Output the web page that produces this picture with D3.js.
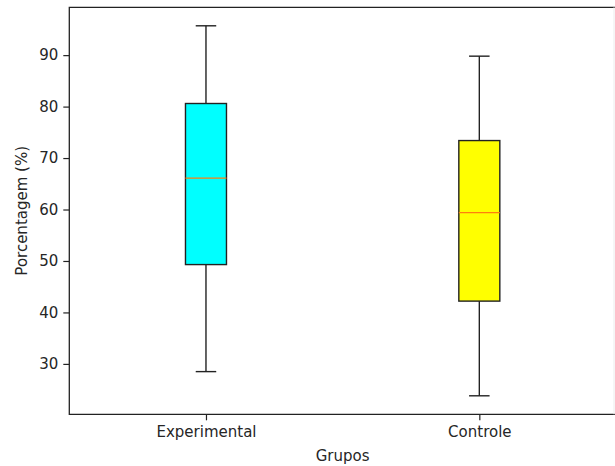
<!DOCTYPE html>
<html>
<head>
<meta charset="utf-8">
<script src="https://cdn.jsdelivr.net/npm/d3@7"></script>
<style>
  body { margin: 0; background: #fff; }
  svg { display: block; font-family: "DejaVu Sans", sans-serif; }
</style>
</head>
<body>
<script>
var categories = ['Experimental', 'Controle'];
var whiskerLow = [28.5, 23.8];
var q1 = [49.3, 42.2];
var median = [66.1, 59.4];
var q3 = [80.6, 73.4];
var whiskerHigh = [95.7, 89.8];
var boxColors = ['#00ffff', '#ffff00'];
var yTicks = [30, 40, 50, 60, 70, 80, 90];

var settings = {
  width: 615,
  height: 466,
  left: 69.3,
  right: 616,
  top: 7.3,
  bottom: 414.3
};

var lineColor = '#222';

var svg = d3.select('body').append('svg')
  .attr('width', settings.width)
  .attr('height', settings.height);

// matplotlib style 5% margin on the data range
var lo = d3.min(whiskerLow), hi = d3.max(whiskerHigh);
var pad = (hi - lo) * 0.05;

var x = d3.scaleLinear()
  .domain([0.5, categories.length + 0.5])
  .range([settings.left, settings.right]);

var y = d3.scaleLinear()
  .domain([lo - pad, hi + pad])
  .range([settings.bottom, settings.top]);

var boxW = 0.15;
var capW = boxW / 2;

var data = categories.map(function(c, i){
  return {
    name: c,
    pos: i + 1,
    low: whiskerLow[i],
    q1: q1[i],
    med: median[i],
    q3: q3[i],
    high: whiskerHigh[i],
    color: boxColors[i]
  };
});

var groups = svg.selectAll('g.box').data(data)
  .enter().append('g')
    .attr('class', 'box');

// whiskers
groups.append('line')
  .attr('x1', function(d){return x(d.pos);})
  .attr('x2', function(d){return x(d.pos);})
  .attr('y1', function(d){return y(d.low);})
  .attr('y2', function(d){return y(d.q1);})
  .style('stroke', lineColor).style('stroke-width', 1.4);
groups.append('line')
  .attr('x1', function(d){return x(d.pos);})
  .attr('x2', function(d){return x(d.pos);})
  .attr('y1', function(d){return y(d.q3);})
  .attr('y2', function(d){return y(d.high);})
  .style('stroke', lineColor).style('stroke-width', 1.4);

// caps
groups.append('line')
  .attr('x1', function(d){return x(d.pos - capW/2);})
  .attr('x2', function(d){return x(d.pos + capW/2);})
  .attr('y1', function(d){return y(d.low);})
  .attr('y2', function(d){return y(d.low);})
  .style('stroke', lineColor).style('stroke-width', 1.4);
groups.append('line')
  .attr('x1', function(d){return x(d.pos - capW/2);})
  .attr('x2', function(d){return x(d.pos + capW/2);})
  .attr('y1', function(d){return y(d.high);})
  .attr('y2', function(d){return y(d.high);})
  .style('stroke', lineColor).style('stroke-width', 1.4);

// boxes
groups.append('rect')
  .attr('x', function(d){return x(d.pos - boxW/2);})
  .attr('y', function(d){return y(d.q3);})
  .attr('width', function(d){return x(d.pos + boxW/2) - x(d.pos - boxW/2);})
  .attr('height', function(d){return y(d.q1) - y(d.q3);})
  .style('fill', function(d){return d.color;})
  .style('stroke', lineColor)
  .style('stroke-width', 1.4);

// medians
groups.append('line')
  .attr('x1', function(d){return x(d.pos - boxW/2);})
  .attr('x2', function(d){return x(d.pos + boxW/2);})
  .attr('y1', function(d){return y(d.med);})
  .attr('y2', function(d){return y(d.med);})
  .style('stroke', '#ff7f0e').style('stroke-width', 1.3);

// axes
var yAxis = svg.append('g')
  .attr('transform', 'translate(' + settings.left + ',0)')
  .call(d3.axisLeft(y).tickValues(yTicks).tickSize(6).tickPadding(5).tickFormat(d3.format('d')));

var xAxis = svg.append('g')
  .attr('transform', 'translate(0,' + settings.bottom + ')')
  .call(d3.axisBottom(x).tickValues(data.map(function(d){return d.pos;}))
    .tickSize(6).tickPadding(6)
    .tickFormat(function(d){return categories[d - 1];}));

[yAxis, xAxis].forEach(function(a){
  a.select('.domain').remove();
  a.selectAll('.tick line').style('stroke', lineColor).style('stroke-width', 1.2);
  a.selectAll('.tick text')
    .style('font-family', '"DejaVu Sans", sans-serif')
    .style('font-size', '15px')
    .style('fill', '#262626');
});

// frame: right spine is cut off at the image edge, only a faint trace shows
var fx = settings.left, fy = settings.top, fb = settings.bottom;
svg.append('path')
  .attr('d', 'M' + (settings.right - 1) + ',' + fy + 'H' + fx + 'V' + fb + 'H' + (settings.right - 1))
  .style('fill', 'none')
  .style('stroke', lineColor)
  .style('stroke-width', 1.3);
svg.append('line')
  .attr('x1', 614).attr('x2', 614)
  .attr('y1', fy).attr('y2', fb)
  .style('stroke', '#ececec')
  .style('stroke-width', 1);

// axis titles
svg.append('text')
  .attr('x', (settings.left + settings.right) / 2)
  .attr('y', 461)
  .attr('text-anchor', 'middle')
  .style('font-size', '15px')
  .style('fill', '#262626')
  .text('Grupos');

svg.append('text')
  .attr('transform', 'translate(27,' + (settings.top + settings.bottom) / 2 + ') rotate(-90)')
  .attr('text-anchor', 'middle')
  .style('font-size', '15px')
  .style('fill', '#262626')
  .text('Porcentagem (%)');
</script>
</body>
</html>
